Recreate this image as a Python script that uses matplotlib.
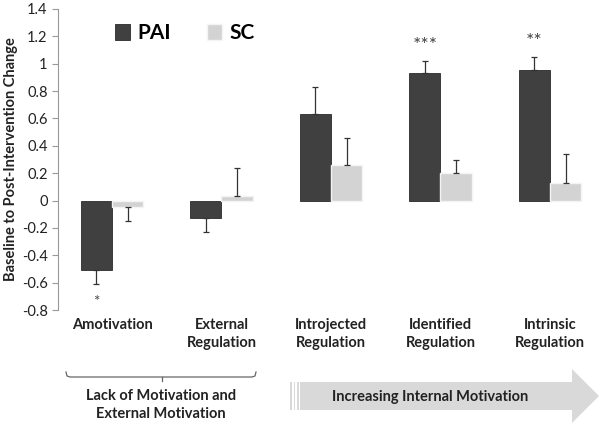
import matplotlib
matplotlib.use("Agg")
import matplotlib.pyplot as plt
import numpy as np
from matplotlib.patches import Polygon, Rectangle

plt.rcParams["font.family"] = ["Lato", "DejaVu Sans"]

categories = ["Amotivation", "External\nRegulation", "Introjected\nRegulation",
              "Identified\nRegulation", "Intrinsic\nRegulation"]
pai = [-0.51, -0.13, 0.63, 0.93, 0.955]
pai_err = [0.10, 0.10, 0.20, 0.09, 0.095]
sc = [-0.05, 0.03, 0.26, 0.20, 0.13]
sc_err = [0.10, 0.21, 0.20, 0.10, 0.21]
stars = ["*", "", "", "***", "**"]
yticks = [-0.8, -0.6, -0.4, -0.2, 0, 0.2, 0.4, 0.6, 0.8, 1, 1.2, 1.4]

fig = plt.figure(figsize=(6, 4.26), dpi=100)
ax = fig.add_axes([58 / 600, 1 - 310 / 426, 542 / 600, 301 / 426])

x = np.arange(len(categories))
w = 0.285
dark, light = "#404040", "#d3d3d3"

b1 = ax.bar(x - w / 2, pai, w, color=dark, edgecolor="#2a2a2a", linewidth=0.6, zorder=2)
b2 = ax.bar(x + w / 2, sc, w, color=light, edgecolor="#f4f4f4", linewidth=1.0, zorder=2)

# one-sided error bars, in the direction of the bar
for xs, vals, errs in [(x - w / 2, pai, pai_err), (x + w / 2, sc, sc_err)]:
    lo = [e if v < 0 else 0 for v, e in zip(vals, errs)]
    hi = [e if v >= 0 else 0 for v, e in zip(vals, errs)]
    ax.errorbar(xs, vals, yerr=[lo, hi], fmt="none", ecolor="#333333",
                elinewidth=0.9, capsize=2.5, capthick=0.9, zorder=3)

for xi, v, e, s in zip(x, pai, pai_err, stars):
    if not s:
        continue
    if v < 0:
        ax.text(xi - w / 2, v - e - 0.13, s, ha="center", va="center",
                fontsize=11, color="#444444")
    else:
        ax.text(xi - w / 2, v + e + 0.11, s, ha="center", va="center",
                fontsize=14, color="#444444")

ax.set_xlim(-0.493, 4.457)
ax.set_ylim(-0.8, 1.4)
ax.set_yticks(yticks)
ax.set_yticklabels([f"{t:g}" for t in yticks], fontsize=10.5, color="#222222")
ax.tick_params(axis="y", length=4, color="#999999", width=0.8)
ax.tick_params(axis="x", length=0, pad=6)
ax.set_xticks(x)
ax.set_xticklabels(categories, fontsize=10.5, fontweight="bold", color="#222222",
                   linespacing=1.35)
for side in ["top", "right", "bottom"]:
    ax.spines[side].set_visible(False)
ax.spines["left"].set_color("#999999")
ax.spines["left"].set_linewidth(0.8)
ax.set_ylabel("Baseline to Post-Intervention Change", fontsize=10.5,
              fontweight="bold", color="#222222", labelpad=3)

leg = ax.legend([b1, b2], ["PAI", "SC"], loc="upper left",
                bbox_to_anchor=(0.07, 1.015), ncol=2, frameon=False,
                prop={"weight": "bold", "size": 15}, handlelength=0.75,
                handleheight=0.75, columnspacing=1.7, handletextpad=0.35)

# decorations below the axis, in figure pixel coordinates
ov = fig.add_axes([0, 0, 1, 1], facecolor="none")
ov.set_xlim(0, 600)
ov.set_ylim(426, 0)
ov.axis("off")

ov.plot([66, 67, 70, 252, 255, 256], [372, 376, 377, 377, 376, 372],
        color="#666666", lw=0.9)
ov.plot([162, 162], [377, 381], color="#666666", lw=0.9)
ov.text(161, 405, "Lack of Motivation and\nExternal Motivation", ha="center",
        va="center", fontsize=10.5, fontweight="bold", color="#222222",
        linespacing=1.45)

arrow = Polygon([(300, 382), (572, 382), (572, 369), (599, 396), (572, 423),
                 (572, 410), (300, 410)], closed=True, facecolor="#d9d9d9",
                edgecolor="none")
ov.add_patch(arrow)
for sx, sw in [(290, 1.5), (293.5, 1.5), (297, 2)]:
    ov.add_patch(Rectangle((sx, 382), sw, 28, facecolor="#d9d9d9", edgecolor="none"))
ov.text(430, 397, "Increasing Internal Motivation", ha="center", va="center",
        fontsize=10.5, fontweight="bold", color="#222222")

fig.savefig("out.png", dpi=100)
